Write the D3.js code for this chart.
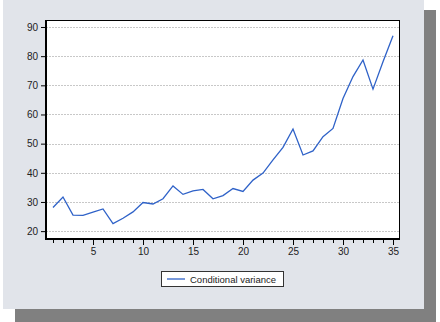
<!DOCTYPE html>
<html>
<head>
<meta charset="utf-8">
<script src="https://cdn.jsdelivr.net/npm/d3@7"></script>
<style>
  body { margin: 0; background: #fff; }
  svg text { font-family: "Liberation Sans", Arial, sans-serif; }
</style>
</head>
<body>
<script>
// conditional variance by observation
var obs = d3.range(1, 36);
var condVar = [28.1, 31.7, 25.5, 25.4, 26.5, 27.6, 22.6, 24.4, 26.6, 29.8,
               29.3, 31.1, 35.5, 32.6, 33.8, 34.3, 31.1, 32.2, 34.6, 33.6,
               37.5, 39.9, 44.4, 48.7, 55.0, 46.1, 47.5, 52.4, 55.2, 65.5,
               73.0, 78.7, 68.7, 78.1, 87.0];
var yTicks = [20, 30, 40, 50, 60, 70, 80, 90];
var xTicks = [5, 10, 15, 20, 25, 30, 35];
var legendLabel = "Conditional variance";

var W = 440, H = 322;
var svg = d3.select('body').append('svg').attr('width', W).attr('height', H);

// shadow + panel
svg.append('rect').attr('x', 15).attr('y', 10).attr('width', 421).attr('height', 312).attr('fill', '#808080');
svg.append('rect').attr('x', 3).attr('y', 0).attr('width', 421).attr('height', 309).attr('fill', '#e1e4ea');

// plot box (window.top is reserved, so use pl/pr/pt/pb)
var pl = 46, pr = 400, pt = 20, pb = 239;
svg.append('rect').attr('x', pl).attr('y', pt).attr('width', pr - pl).attr('height', pb - pt).attr('fill', '#fff');

var x = d3.scaleLinear().domain([0.3, 35.7]).range([pl, pr]);
var y = d3.scaleLinear().domain([17.3, 92.4]).range([pb, pt]);

// grid
svg.append('g').selectAll('line').data(yTicks).enter().append('line')
  .attr('x1', pl).attr('x2', pr)
  .attr('y1', d => Math.round(y(d)) + 0.5).attr('y2', d => Math.round(y(d)) + 0.5)
  .attr('stroke', '#c8c8c8').attr('stroke-width', 1)
  .attr('stroke-dasharray', '2,1');

// line
var line = d3.line().x((d, i) => x(obs[i])).y(d => y(d));
svg.append('path').datum(condVar).attr('d', line)
  .attr('fill', 'none').attr('stroke', '#2f62c8').attr('stroke-width', 1.3);

// frame
svg.append('rect').attr('x', pl + 0.5).attr('y', pt + 0.5).attr('width', pr - pl - 1).attr('height', pb - pt - 1)
  .attr('fill', 'none').attr('stroke', '#000').attr('stroke-width', 1);
svg.append('line').attr('x1', pl).attr('x2', pl).attr('y1', pt).attr('y2', pb + 1)
  .attr('stroke', '#000').attr('stroke-width', 2);
svg.append('line').attr('x1', pl - 1).attr('x2', pr).attr('y1', pb).attr('y2', pb)
  .attr('stroke', '#000').attr('stroke-width', 2);

// y axis
var yAxis = d3.axisLeft(y).tickValues(yTicks).tickSize(4).tickPadding(3);
var gy = svg.append('g').attr('transform', 'translate(' + (pl - 1) + ',0)').call(yAxis);
gy.select('.domain').remove();
gy.selectAll('text').attr('font-size', 10).attr('fill', '#222');
gy.selectAll('line').attr('stroke', '#000');

// x axis: minor ticks every obs, major at fives
var gxMinor = svg.append('g').attr('transform', 'translate(0,' + (pb + 1) + ')')
  .call(d3.axisBottom(x).tickValues(obs).tickSize(3).tickFormat(''));
gxMinor.select('.domain').remove();
gxMinor.selectAll('line').attr('stroke', '#000');
var gx = svg.append('g').attr('transform', 'translate(0,' + (pb + 1) + ')')
  .call(d3.axisBottom(x).tickValues(xTicks).tickSize(5).tickPadding(3));
gx.select('.domain').remove();
gx.selectAll('line').attr('stroke', '#000');
gx.selectAll('text').attr('font-size', 10).attr('fill', '#222');

// legend
var lg = svg.append('g');
lg.append('rect').attr('x', 161.5).attr('y', 271.5).attr('width', 122).attr('height', 15)
  .attr('fill', '#fff').attr('stroke', '#333').attr('stroke-width', 1);
lg.append('line').attr('x1', 167).attr('x2', 185).attr('y1', 279).attr('y2', 279)
  .attr('stroke', '#2f62c8').attr('stroke-width', 1.3);
lg.append('text').attr('x', 190).attr('y', 282.5).attr('font-size', 9.5).attr('fill', '#222').text(legendLabel);
</script>
</body>
</html>
